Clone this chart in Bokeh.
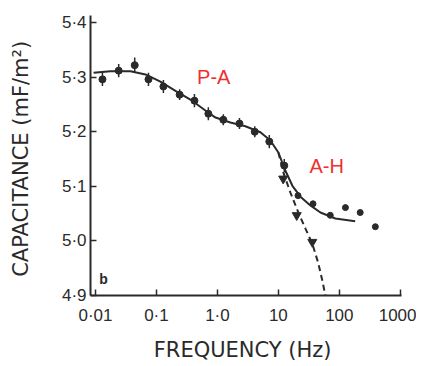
from bokeh.plotting import figure
from bokeh.models import FixedTicker, Range1d, Label
from bokeh.embed import file_html
from bokeh.resources import INLINE

# ---- data ----
freq_pa = [0.013, 0.024, 0.044, 0.074, 0.13, 0.24, 0.42, 0.71, 1.25, 2.3, 4.1, 7.1, 12.5]
cap_pa = [5.296, 5.312, 5.322, 5.296, 5.283, 5.268, 5.257, 5.233, 5.222, 5.215, 5.200, 5.182, 5.138]
err_pa = [0.012, 0.012, 0.014, 0.012, 0.012, 0.010, 0.012, 0.012, 0.010, 0.010, 0.010, 0.012, 0.012]

freq_ah = [21, 37, 71, 126, 220, 390]
cap_ah = [5.083, 5.068, 5.047, 5.061, 5.052, 5.026]

freq_tri = [12, 20, 36]
cap_tri = [5.114, 5.047, 4.998]

fit_f = [0.0093, 0.0176, 0.0375, 0.066, 0.116, 0.205, 0.36, 0.635, 0.93, 1.63, 2.88,
         5.07, 7.4, 10, 13, 17, 23, 33.5, 49, 86, 182]
fit_c = [5.308, 5.311, 5.311, 5.305, 5.292, 5.275, 5.259, 5.239, 5.226, 5.217, 5.210,
         5.199, 5.184, 5.162, 5.129, 5.101, 5.081, 5.065, 5.052, 5.041, 5.036]

dash_f = [10, 12.1, 15.7, 21.3, 27.7, 36, 45, 52.7, 59]
dash_c = [5.162, 5.125, 5.089, 5.052, 5.023, 4.995, 4.96, 4.927, 4.9]

y_ticks = [4.9, 5.0, 5.1, 5.2, 5.3, 5.4]
y_labels = ["4·9", "5·0", "5·1", "5·2", "5·3", "5·4"]
x_ticks = [0.01, 0.1, 1, 10, 100, 1000]
x_labels = ["0·01", "0·1", "1·0", "10", "100", "1000"]

ink = "#2a2a2a"
red = "#ee3030"
tick_font = "Liberation Sans"
label_font = "DejaVu Sans"

p = figure(width=416, height=364, x_axis_type="log",
           x_range=Range1d(10 ** -2.082, 10 ** 3.02), y_range=Range1d(4.9, 5.413),
           output_backend="svg", toolbar_location=None,
           min_border_left=90, min_border_right=15, min_border_top=15, min_border_bottom=69)
p.outline_line_color = None
p.grid.visible = False
p.background_fill_color = "white"

for ax in (p.xaxis[0], p.yaxis[0]):
    ax.axis_line_color = ink
    ax.axis_line_width = 2
    ax.major_tick_line_color = ink
    ax.major_tick_line_width = 1.5
    ax.major_tick_in = 6
    ax.major_tick_out = 0
    ax.minor_tick_line_color = None
    ax.major_label_text_font = tick_font
    ax.major_label_text_font_size = "17px"
    ax.major_label_text_color = ink
    ax.axis_label_text_font = label_font
    ax.axis_label_text_font_style = "normal"
    ax.axis_label_text_font_size = "21px"
    ax.axis_label_text_color = ink

p.xaxis.ticker = FixedTicker(ticks=x_ticks)
p.xaxis.major_label_overrides = {t: l for t, l in zip(x_ticks, x_labels)}
p.yaxis.ticker = FixedTicker(ticks=y_ticks)
p.yaxis.major_label_overrides = {t: l for t, l in zip(y_ticks, y_labels)}
p.xaxis.axis_label = "FREQUENCY  (Hz)"
p.yaxis.axis_label = "CAPACITANCE  (mF/m²)"
p.xaxis.major_label_standoff = 10
p.yaxis.major_label_standoff = 4
p.xaxis.axis_label_standoff = 10
p.yaxis.axis_label_standoff = 26

# fitted curves
p.line(fit_f, fit_c, line_color=ink, line_width=2)
p.line(dash_f, dash_c, line_color=ink, line_width=2, line_dash="6 4")

# error bars
p.segment(x0=freq_pa, x1=freq_pa,
          y0=[c - e for c, e in zip(cap_pa, err_pa)],
          y1=[c + e for c, e in zip(cap_pa, err_pa)],
          line_color=ink, line_width=1.5)

# points
p.scatter(freq_pa, cap_pa, size=7, marker="circle", color=ink)
p.scatter(freq_ah, cap_ah, size=6, marker="circle", color=ink)
p.scatter(freq_tri, cap_tri, size=9, marker="inverted_triangle", color=ink)

p.add_layout(Label(x=0.87, y=5.3, text="P-A", text_color=red, text_font=tick_font,
                   text_font_size="20px", text_align="center", text_baseline="middle"))
p.add_layout(Label(x=62, y=5.137, text="A-H", text_color=red, text_font=tick_font,
                   text_font_size="20px", text_align="center", text_baseline="middle"))
p.add_layout(Label(x=0.0135, y=4.93, text="b", text_color=ink, text_font=tick_font,
                   text_font_size="14px", text_align="center", text_baseline="middle",
                   text_font_style="bold"))

open("out.html", "w").write(file_html(p, INLINE))
